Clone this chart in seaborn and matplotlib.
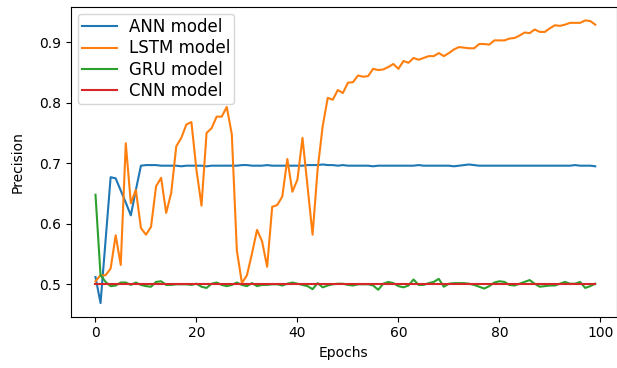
import matplotlib
matplotlib.use("Agg")
import matplotlib.pyplot as plt
import numpy as np
import seaborn as sns

# Per-epoch validation precision for each model
epochs = list(range(100))

ann_precision = [
    0.512, 0.469, 0.573, 0.677, 0.675, 0.655, 0.635, 0.614, 0.656, 0.696,
    0.697, 0.697, 0.697, 0.696, 0.696, 0.696, 0.696, 0.695, 0.696, 0.696,
    0.696, 0.696, 0.695, 0.696, 0.696, 0.696, 0.696, 0.696, 0.696, 0.697,
    0.697, 0.696, 0.696, 0.696, 0.697, 0.696, 0.696, 0.696, 0.696, 0.696,
    0.696, 0.696, 0.697, 0.697, 0.697, 0.698, 0.697, 0.697, 0.696, 0.697,
    0.696, 0.696, 0.696, 0.696, 0.696, 0.695, 0.696, 0.696, 0.696, 0.696,
    0.696, 0.696, 0.696, 0.696, 0.697, 0.696, 0.696, 0.696, 0.696, 0.696,
    0.696, 0.695, 0.696, 0.697, 0.698, 0.697, 0.696, 0.696, 0.696, 0.696,
    0.696, 0.696, 0.696, 0.696, 0.696, 0.696, 0.696, 0.696, 0.696, 0.696,
    0.696, 0.696, 0.696, 0.696, 0.696, 0.697, 0.696, 0.696, 0.696, 0.695,
]

lstm_precision = [
    0.505, 0.515, 0.515, 0.526, 0.581, 0.532, 0.733, 0.634, 0.656, 0.593,
    0.582, 0.595, 0.662, 0.676, 0.618, 0.651, 0.728, 0.742, 0.764, 0.768,
    0.689, 0.630, 0.750, 0.758, 0.777, 0.777, 0.793, 0.748, 0.556, 0.502,
    0.515, 0.551, 0.590, 0.571, 0.529, 0.628, 0.631, 0.645, 0.707, 0.653,
    0.673, 0.742, 0.662, 0.582, 0.690, 0.761, 0.808, 0.805, 0.821, 0.816,
    0.833, 0.834, 0.845, 0.843, 0.844, 0.856, 0.854, 0.855, 0.859, 0.864,
    0.856, 0.869, 0.866, 0.874, 0.871, 0.874, 0.877, 0.877, 0.882, 0.877,
    0.882, 0.888, 0.892, 0.891, 0.890, 0.890, 0.897, 0.897, 0.896, 0.903,
    0.903, 0.903, 0.906, 0.907, 0.911, 0.916, 0.915, 0.921, 0.917, 0.917,
    0.923, 0.928, 0.927, 0.929, 0.932, 0.932, 0.932, 0.936, 0.935, 0.929,
]

gru_precision = [
    0.648, 0.515, 0.504, 0.497, 0.498, 0.503, 0.503, 0.499, 0.503, 0.499,
    0.497, 0.496, 0.504, 0.505, 0.499, 0.499, 0.500, 0.500, 0.500, 0.499,
    0.501, 0.496, 0.494, 0.501, 0.503, 0.499, 0.497, 0.499, 0.503, 0.499,
    0.497, 0.502, 0.497, 0.499, 0.499, 0.500, 0.500, 0.498, 0.501, 0.503,
    0.501, 0.499, 0.497, 0.492, 0.502, 0.495, 0.498, 0.500, 0.501, 0.501,
    0.499, 0.498, 0.500, 0.500, 0.500, 0.498, 0.491, 0.501, 0.504, 0.502,
    0.497, 0.495, 0.498, 0.508, 0.499, 0.499, 0.502, 0.504, 0.509, 0.496,
    0.501, 0.502, 0.502, 0.502, 0.501, 0.499, 0.496, 0.493, 0.497, 0.503,
    0.505, 0.504, 0.499, 0.498, 0.501, 0.504, 0.507, 0.501, 0.496, 0.497,
    0.498, 0.498, 0.501, 0.504, 0.501, 0.501, 0.504, 0.494, 0.497, 0.501,
]

cnn_precision = [0.5] * 100

series = [
    ("ANN model", ann_precision, "#1f77b4"),
    ("LSTM model", lstm_precision, "#ff7f0e"),
    ("GRU model", gru_precision, "#2ca02c"),
    ("CNN model", cnn_precision, "#d62728"),
]

fig = plt.figure(figsize=(6.17, 3.68), dpi=100)
ax = fig.add_axes([70.5 / 617, 1 - 316.7 / 368, (617 - 70.5) / 617, (316.7 - 6.5) / 368])

for name, values, color in series:
    sns.lineplot(x=epochs, y=values, ax=ax, label=name, color=color, linewidth=1.5)

ax.set_xlim(-4.95, 103.3)
ax.set_ylim(0.4465, 0.959)
ax.set_xlabel("Epochs")
ax.set_ylabel("Precision", labelpad=10)
ax.legend(loc="upper left", fontsize=12, labelspacing=0.2, borderpad=0.25,
          handlelength=2.1, handletextpad=0.7, borderaxespad=0.45)

fig.savefig("out.png", dpi=100)
